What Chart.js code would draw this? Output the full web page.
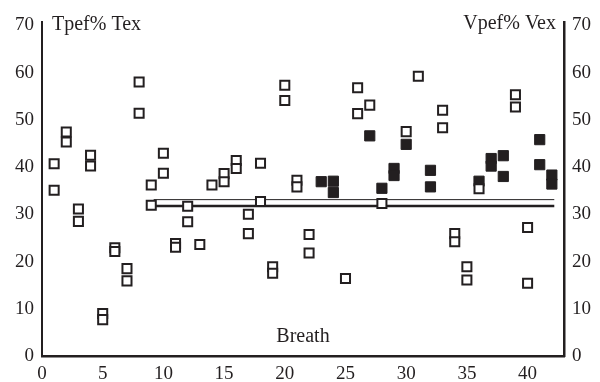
<!DOCTYPE html>
<html><head><meta charset="utf-8">
<script src="https://cdn.jsdelivr.net/npm/chart.js@4/dist/chart.umd.min.js"></script>
<style>html,body{margin:0;padding:0;background:#fff;}#wrap{width:600px;height:382px;}</style>
</head><body><div id="wrap"><canvas id="c" width="600" height="382"></canvas></div>
<script>
// ---- data ----
const xTickValues = [0, 5, 10, 15, 20, 25, 30, 35, 40];
const yTickValues = [0, 10, 20, 30, 40, 50, 60, 70];

// Tpef%Tex (open squares)
const openBreath = [1,1,2,2,3,3,4,4,5,5,6,6,7,7,8,8,9,9,10,10,11,11,12,12,13,14,15,15,16,16,17,17,18,18,19,19,20,20,21,21,22,22,25,26,26,27,28,30,31,33,33,34,34,35,35,36,39,39,40,40];
const openValue  = [40.7,35.1,47.4,45.3,31.1,28.5,42.5,40.2,9.0,7.7,22.9,22.1,18.5,15.9,58.0,51.4,36.2,31.9,42.9,38.7,23.8,23.0,31.7,28.4,23.6,36.2,38.6,36.9,41.4,39.7,30.0,25.9,40.8,32.7,18.9,17.5,57.3,54.1,37.2,35.8,25.7,21.8,16.4,56.8,51.3,53.1,32.3,47.5,59.2,52.0,48.3,25.9,24.2,18.9,16.1,35.4,55.3,52.7,27.2,15.4];

// Vpef%Vex (filled squares)
const filledBreath = [23,24,24,27,28,29,29,30,32,32,36,37,37,38,38,41,41,42,42];
const filledValue  = [36.9,37.0,34.6,46.6,35.5,39.7,38.2,44.8,39.3,35.8,37.0,41.8,40.2,42.4,38.0,45.8,40.5,38.3,36.4];

// reference lines
const refBreath = [9.2, 42.2];
const upperRef  = [33.1, 33.1];
const lowerRef  = [31.75, 31.75];

const labels = { left: 'Tpef% Tex', right: 'Vpef% Vex', bottom: 'Breath' };

// ---- chart ----
const DARK = '#231f20';
const FAM = "'Liberation Serif', 'Times New Roman', serif";
const toPts = (xs, ys) => xs.map((x, i) => ({ x: x, y: ys[i] }));

const textPlugin = {
  id: 'texts',
  afterDraw(chart) {
    const ctx = chart.ctx, a = chart.chartArea;
    ctx.save();
    ctx.fillStyle = DARK;
    ctx.font = '20px ' + FAM;
    ctx.textBaseline = 'alphabetic';
    ctx.textAlign = 'left';
    ctx.fillText(labels.left, a.left + 10, a.top + 8);
    ctx.textAlign = 'right';
    ctx.fillText(labels.right, a.right - 8, a.top + 7);
    ctx.textAlign = 'center';
    ctx.fillText(labels.bottom, (a.left + a.right) / 2, a.bottom - 14);
    ctx.restore();
  }
};

const tickFont = { family: FAM, size: 19 };

new Chart(document.getElementById('c'), {
  type: 'scatter',
  data: {
    datasets: [
      { label: labels.left, data: toPts(openBreath, openValue), pointStyle: 'rect', pointRadius: 6.4,
        borderColor: DARK, backgroundColor: '#ffffff', borderWidth: 2, order: 0 },
      { label: labels.right, data: toPts(filledBreath, filledValue), pointStyle: 'rect', pointRadius: 7.2,
        borderColor: DARK, backgroundColor: DARK, borderWidth: 1, order: 1 },
      { type: 'line', data: toPts(refBreath, upperRef), borderColor: DARK, borderWidth: 1,
        pointRadius: 0, showLine: true, order: 2 },
      { type: 'line', data: toPts(refBreath, lowerRef), borderColor: DARK, borderWidth: 2.5,
        pointRadius: 0, showLine: true, order: 2 }
    ]
  },
  options: {
    responsive: false,
    animation: false,
    devicePixelRatio: 1,
    layout: { padding: { top: 22, left: 0, right: 0, bottom: 0 } },
    plugins: { legend: { display: false }, tooltip: { enabled: false } },
    scales: {
      x: {
        type: 'linear', min: 0, max: 43,
        grid: { display: false, drawTicks: false },
        border: { display: true, color: DARK, width: 2.5 },
        ticks: { font: tickFont, color: DARK, padding: 7, maxRotation: 0, autoSkip: false },
        afterBuildTicks: s => { s.ticks = xTickValues.map(v => ({ value: v })); },
        afterFit: s => { s.height = 26; }
      },
      y: {
        position: 'left', min: 0, max: 70.7,
        grid: { display: false, drawTicks: false },
        border: { display: true, color: DARK, width: 2 },
        ticks: { font: tickFont, color: DARK, padding: 8, autoSkip: false },
        afterBuildTicks: s => { s.ticks = yTickValues.map(v => ({ value: v })); },
        afterFit: s => { s.width = 42; }
      },
      y2: {
        position: 'right', min: 0, max: 70.7,
        grid: { display: false, drawTicks: false },
        border: { display: true, color: DARK, width: 2.5 },
        ticks: { font: tickFont, color: DARK, padding: 8, autoSkip: false },
        afterBuildTicks: s => { s.ticks = yTickValues.map(v => ({ value: v })); },
        afterFit: s => { s.width = 36; }
      }
    }
  },
  plugins: [textPlugin]
});
</script>
</body></html>
